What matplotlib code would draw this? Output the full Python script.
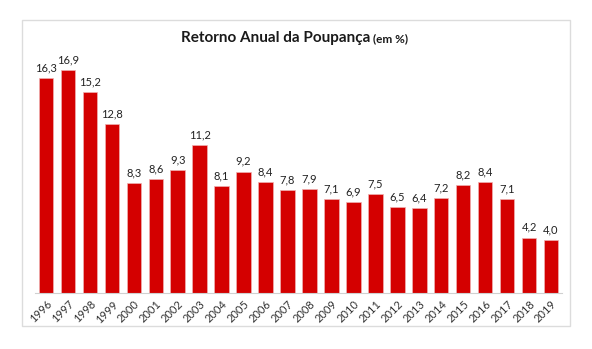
import matplotlib
matplotlib.use("Agg")
import matplotlib.pyplot as plt
from matplotlib.patches import Rectangle

years = [str(y) for y in range(1996, 2020)]
values = [16.3, 16.9, 15.2, 12.8, 8.3, 8.6, 9.3, 11.2, 8.1, 9.2, 8.4, 7.8,
          7.9, 7.1, 6.9, 7.5, 6.5, 6.4, 7.2, 8.2, 8.4, 7.1, 4.2, 4.0]

plt.rcParams['font.family'] = ['Lato', 'DejaVu Sans']

fig = plt.figure(figsize=(5.92, 3.49), dpi=100)
fig.patch.set_facecolor('white')

# outer chart border
fig.patches.append(Rectangle((22/592, 1 - 326/349), (570-22)/592, (326-20)/349,
                             transform=fig.transFigure, fill=False,
                             edgecolor='#dcdcdc', linewidth=1.0))

ax = fig.add_axes([35/592, 56/349, 527/592, 0.70])
x = list(range(len(years)))
bars = ax.bar(x, values, width=0.66, color='#d40000', edgecolor='#f0b0b0', linewidth=0.5)
for xi, v in zip(x, values):
    ax.text(xi, v + 0.35, f"{v:.1f}".replace('.', ','), ha='center', va='bottom',
            fontsize=8, color='#222222')

ax.set_xlim(-0.5, len(years) - 0.5)
ax.set_ylim(0, 18.5)
ax.set_xticks(x)
ax.set_xticklabels(years, rotation=45, ha='right', rotation_mode='anchor',
                   fontsize=8, color='#333333')
ax.tick_params(axis='x', length=0, pad=4)
ax.set_yticks([])
for s in ['top', 'right', 'left']:
    ax.spines[s].set_visible(False)
ax.spines['bottom'].set_color('#d0d0d0')
ax.spines['bottom'].set_linewidth(0.8)

fig.text(370/592, 1 - 42/349, "Retorno Anual da Poupança", ha='right', va='baseline',
         fontsize=11, fontweight='bold', color='#1a1a1a')
fig.text(373/592, 1 - 42/349, "(em %)", ha='left', va='baseline',
         fontsize=8.5, fontweight='bold', color='#1a1a1a')

fig.savefig("out.png", dpi=100)
